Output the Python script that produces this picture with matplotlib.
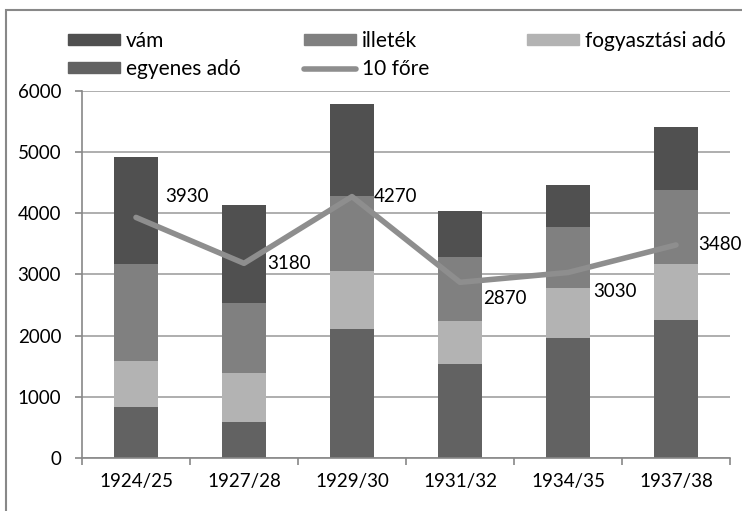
import matplotlib
matplotlib.use("Agg")
import matplotlib.pyplot as plt
from matplotlib.patches import Rectangle
from matplotlib.lines import Line2D
import numpy as np

plt.rcParams['font.family'] = ['Lato', 'DejaVu Sans']

categories = ['1924/25', '1927/28', '1929/30', '1931/32', '1934/35', '1937/38']
egyenes = [830, 590, 2110, 1540, 1960, 2260]
fogyasztasi = [750, 800, 940, 700, 820, 910]
illetek = [1590, 1140, 1230, 1050, 990, 1210]
vam = [1750, 1610, 1500, 740, 690, 1020]
fore10 = [3930, 3180, 4270, 2870, 3030, 3480]
label_offsets = [(29, 21), (23, 0), (22, 0), (23, -16), (25, -19), (22, 0)]

c_vam = '#505050'
c_ill = '#808080'
c_fog = '#b3b3b3'
c_egy = '#626262'
c_line = '#8e8e8e'
FS = 13.5
LFS = 15

fig = plt.figure(figsize=(7.42, 5.11), dpi=100)
ax = fig.add_axes([82/742, 1-458/511, (730-82)/742, (458-90.7)/511])

x = np.arange(len(categories))
w = 0.4
b1 = np.array(egyenes)
b2 = b1 + np.array(fogyasztasi)
b3 = b2 + np.array(illetek)
ax.bar(x, egyenes, w, color=c_egy, zorder=2)
ax.bar(x, fogyasztasi, w, bottom=b1, color=c_fog, zorder=2)
ax.bar(x, illetek, w, bottom=b2, color=c_ill, zorder=2)
ax.bar(x, vam, w, bottom=b3, color=c_vam, zorder=2)
ax.plot(x, fore10, color=c_line, lw=4, zorder=3, solid_capstyle='round', solid_joinstyle='round')

for xi, v, (dx, dy) in zip(x, fore10, label_offsets):
    ax.annotate(str(v), (xi, v), xytext=(dx, dy), textcoords='offset pixels',
                ha='left', va='center', fontsize=FS, color='black', zorder=4)

ax.set_xlim(-0.5, len(categories) - 0.5)
ax.set_ylim(0, 6000)
ax.set_yticks(np.arange(0, 6001, 1000))
ax.yaxis.grid(True, color='#a8a8a8', lw=1.3, zorder=0)
ax.set_axisbelow(True)
ax.set_xticks(x)
ax.set_xticklabels(categories, fontsize=FS)
ax.set_xticks(np.arange(-0.5, len(categories), 1), minor=True)
ax.tick_params(axis='x', which='major', length=0, pad=11)
ax.tick_params(axis='x', which='minor', length=5, color='#888888', width=1.2)
ax.tick_params(axis='y', length=5, color='#888888', width=1.2, labelsize=FS, pad=10)
for s in ['top', 'right']:
    ax.spines[s].set_visible(False)
for s in ['left', 'bottom']:
    ax.spines[s].set_color('#888888')
    ax.spines[s].set_linewidth(1.2)

# figure frame (clipped on right and bottom)
fig.patches.append(Rectangle((6/742, -0.1), 1.2, 1 - 10/511 + 0.1, transform=fig.transFigure,
                             fill=False, edgecolor='#888888', lw=1.5))

# legend
handles = [
    Rectangle((0, 0), 1, 1, color=c_vam),
    Rectangle((0, 0), 1, 1, color=c_ill),
    Rectangle((0, 0), 1, 1, color=c_fog),
    Rectangle((0, 0), 1, 1, color=c_egy),
    Line2D([0], [0], color=c_line, lw=4, solid_capstyle='round'),
]
labels = ['vám', 'illeték', 'fogyasztási adó', 'egyenes adó', '10 főre']
def add_leg(h, l, xpx, ypx):
    fig.legend([h], [l], loc='center left', bbox_to_anchor=(xpx/742, 1-ypx/511),
               frameon=False, fontsize=LFS, handlelength=2.5, handleheight=0.43,
               handletextpad=0.29, borderpad=0, borderaxespad=0)
pos = [(68, 41), (304, 41), (527, 41), (68, 69), (304, 69)]
for h, l, (px, py) in zip(handles, labels, pos):
    add_leg(h, l, px, py)

fig.savefig('out.png', dpi=100)
